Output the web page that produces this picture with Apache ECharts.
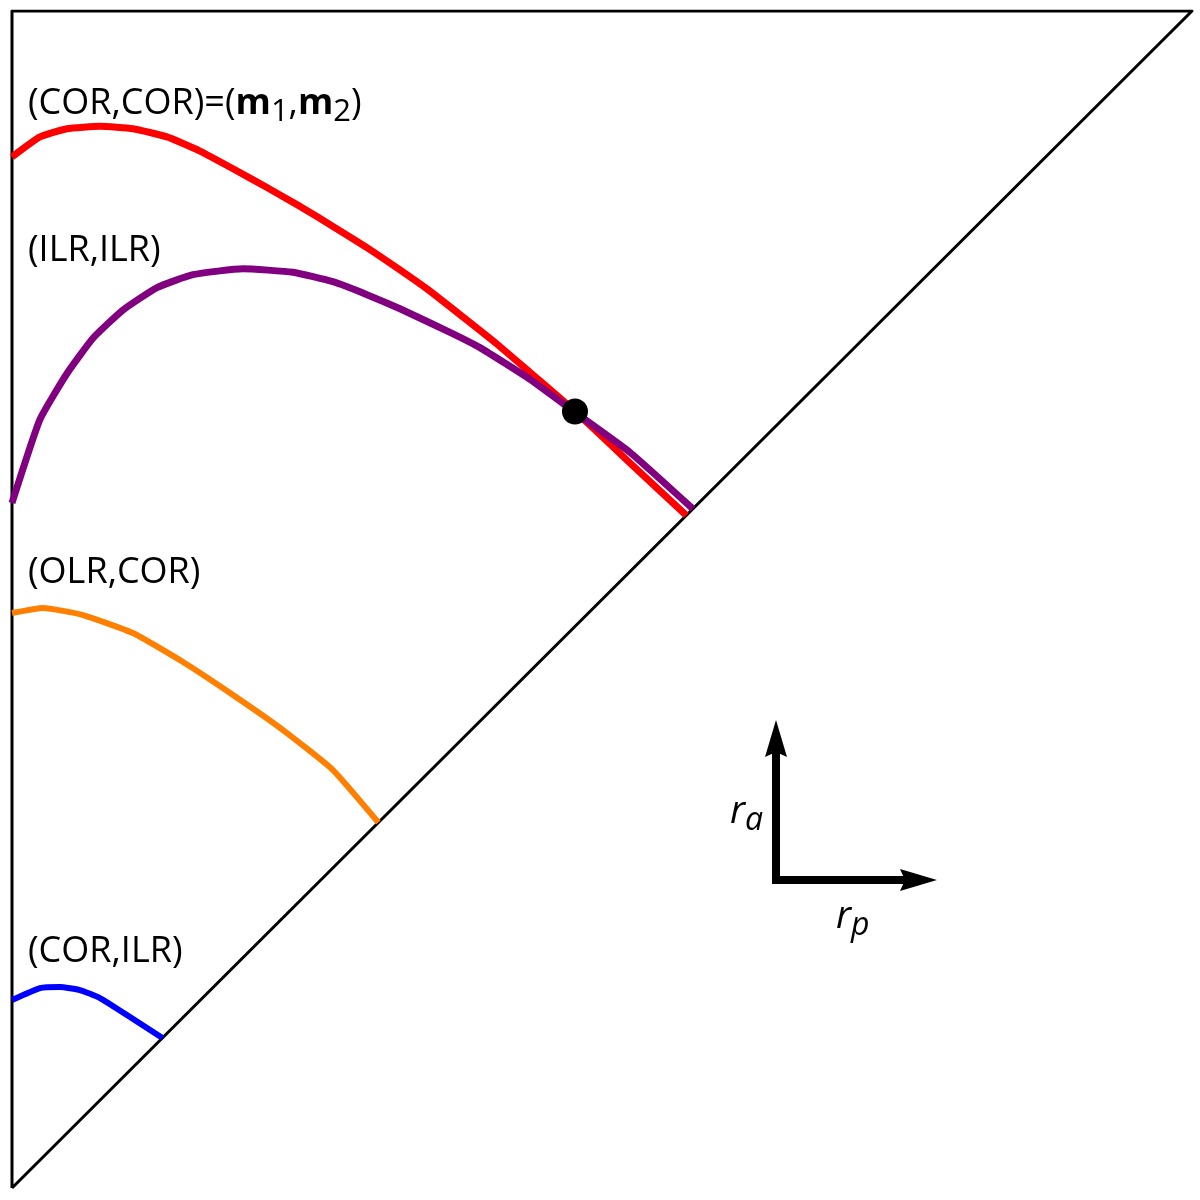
<!DOCTYPE html>
<html>
<head>
<meta charset="utf-8">
<script src="https://cdn.jsdelivr.net/npm/echarts@6/dist/echarts.min.js"></script>
<style>
html,body{margin:0;padding:0;background:#fff;}
#chart{width:1200px;height:1200px;}
</style>
</head>
<body>
<div id="chart"></div>
<script>
// Triangle boundary (r_p, r_a)
const boundaryRp = [0, 0, 1, 0];
const boundaryRa = [0, 1, 1, 0];

// (COR,COR) = (m1,m2) curve
const corCorRp = [0, 0.0237, 0.0466, 0.0746, 0.1025, 0.1314, 0.1593, 0.1873, 0.2161, 0.2441, 0.2720, 0.3008, 0.3288, 0.3542, 0.3822, 0.4110, 0.4390, 0.4669, 0.4771, 0.5237, 0.5715];
const corCorRa = [0.876, 0.893, 0.900, 0.902, 0.900, 0.893, 0.881, 0.866, 0.850, 0.834, 0.817, 0.799, 0.780, 0.762, 0.740, 0.717, 0.693, 0.669, 0.660, 0.616, 0.5715];

// (ILR,ILR) curve
const ilrIlrRp = [0, 0.0237, 0.0466, 0.0686, 0.0941, 0.1229, 0.1534, 0.1958, 0.2381, 0.2720, 0.3008, 0.3288, 0.3712, 0.3966, 0.4390, 0.4771, 0.5237, 0.5770];
const ilrIlrRa = [0.582, 0.653, 0.692, 0.722, 0.746, 0.765, 0.776, 0.781, 0.778, 0.770, 0.759, 0.747, 0.727, 0.714, 0.687, 0.659, 0.625, 0.5770];

// (OLR,COR) curve
const olrCorRp = [0, 0.0263, 0.0602, 0.1025, 0.1449, 0.1873, 0.2297, 0.2720, 0.3105];
const olrCorRa = [0.4885, 0.4928, 0.4868, 0.4715, 0.4469, 0.4189, 0.3891, 0.3551, 0.3105];

// (COR,ILR) curve
const corIlrRp = [0, 0.0237, 0.0407, 0.0576, 0.0746, 0.1000, 0.1275];
const corIlrRa = [0.1597, 0.1699, 0.1708, 0.1682, 0.1614, 0.1453, 0.1275];

// Intersection point
const pointRp = [0.4771];
const pointRa = [0.6597];

const zip = (a, b) => a.map((v, i) => [v, b[i]]);

const chart = echarts.init(document.getElementById('chart'), null, {renderer: 'canvas'});

const FONT = '"Open Sans", "Noto Sans", sans-serif';

function curve(name, rp, ra, color, width, z, smooth) {
  return {
    name: name, type: 'line', data: zip(rp, ra), showSymbol: false, symbol: 'none',
    smooth: smooth, lineStyle: {color: color, width: width, cap: 'butt', join: 'round'},
    z: z, silent: true, animation: false
  };
}

const option = {
  animation: false,
  backgroundColor: '#ffffff',
  grid: {left: 12, top: 11, width: 1180, height: 1177, containLabel: false},
  xAxis: {type: 'value', min: 0, max: 1, show: false},
  yAxis: {type: 'value', min: 0, max: 1, show: false},
  series: [
    curve('(COR,COR)', corCorRp, corCorRa, '#ff0000', 7, 3, 0.15),
    curve('(ILR,ILR)', ilrIlrRp, ilrIlrRa, '#800080', 7, 4, 0.15),
    curve('(OLR,COR)', olrCorRp, olrCorRa, '#ff8000', 6, 3, 0.15),
    curve('(COR,ILR)', corIlrRp, corIlrRa, '#0000ff', 6, 3, 0.15),
    curve('boundary', boundaryRp, boundaryRa, '#000000', 3, 2, false),
    {
      name: 'point', type: 'scatter', data: zip(pointRp, pointRa),
      symbol: 'circle', symbolSize: 26, itemStyle: {color: '#000000', opacity: 1}, z: 6, silent: true
    }
  ]
};
chart.setOption(option);

// Annotations: labels and axis-direction arrows
const subRich = {
  b: {fontFamily: FONT, fontSize: 36, fontWeight: 'bold', fill: '#000'},
  s: {fontFamily: FONT, fontSize: 31, padding: [16, 0, 0, 0], fill: '#000'},
  i: {fontFamily: FONT, fontSize: 38, fontStyle: 'italic', fill: '#000'},
  si: {fontFamily: FONT, fontSize: 32, fontStyle: 'italic', padding: [18, 0, 0, 0], fill: '#000'}
};
function label(text, x, y) {
  return {
    type: 'text', x: x, y: y, z: 10, silent: true,
    style: {text: text, fontFamily: FONT, fontSize: 36, fill: '#000', align: 'left', verticalAlign: 'middle', rich: subRich}
  };
}
chart.setOption({
  graphic: [
    label('(COR,COR)=({b|m}{s|1},{b|m}{s|2})', 28, 104),
    label('(ILR,ILR)', 28, 251),
    label('(OLR,COR)', 28, 573),
    label('(COR,ILR)', 28, 952),
    label('{i|r}{si|a}', 730, 812),
    label('{i|r}{si|p}', 836, 917),
    {type: 'polyline', z: 10, silent: true, shape: {points: [[776, 884], [776, 750]]}, style: {stroke: '#000', lineWidth: 8, fill: null}},
    {type: 'polyline', z: 10, silent: true, shape: {points: [[772, 880], [905, 880]]}, style: {stroke: '#000', lineWidth: 8, fill: null}},
    {type: 'polygon', z: 11, silent: true, shape: {points: [[776, 720], [787, 757], [776, 752], [765, 757]]}, style: {fill: '#000'}},
    {type: 'polygon', z: 11, silent: true, shape: {points: [[937, 880], [900, 891], [905, 880], [900, 869]]}, style: {fill: '#000'}}
  ]
});
</script>
</body>
</html>
